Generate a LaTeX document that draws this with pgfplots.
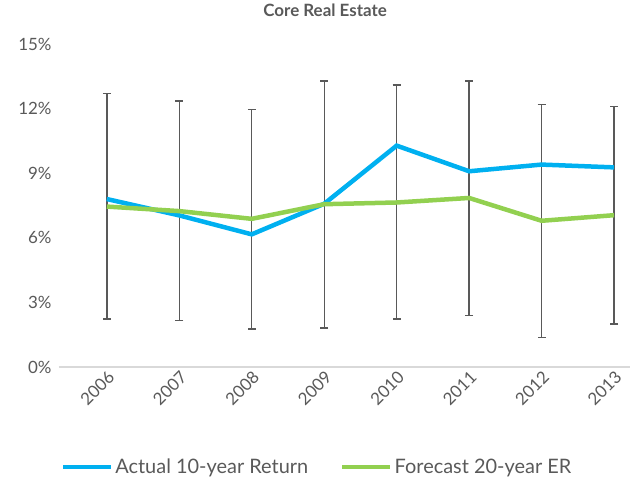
\documentclass[border=0pt]{standalone}
\usepackage{fontspec}
\setmainfont{Lato}
\usepackage{pgfplots}
\pgfplotsset{compat=1.18}
\definecolor{txt}{HTML}{595959}
\definecolor{blueL}{HTML}{00B0F0}
\definecolor{greenL}{HTML}{92D050}
\definecolor{errc}{HTML}{595959}
\definecolor{axc}{HTML}{D9D9D9}
\begin{document}
\begin{tikzpicture}
\useasboundingbox (-59bp,-114bp) rectangle (571bp,367bp);
\begin{axis}[
  at={(0,0)}, anchor=south west,
  scale only axis, width=571bp, height=323bp,
  xmin=-0.66, xmax=7.22, ymin=0, ymax=15,
  axis x line=bottom, axis y line=left,
  axis line style={-},
  x axis line style={draw=axc, line width=1.3bp},
  y axis line style={draw=none},
  major tick length=0,
  xtick={0,...,7}, xticklabels={2006,2007,2008,2009,2010,2011,2012,2013},
  xticklabel style={rotate=45, anchor=north east, font=\fontsize{17}{20}\selectfont, text=txt, inner sep=2bp},
  ytick={0,3,6,9,12,15}, yticklabels={0\%,3\%,6\%,9\%,12\%,15\%},
  yticklabel style={anchor=east, font=\fontsize{17}{20}\selectfont, text=txt, xshift=-4bp},
  title={Core Real Estate},
  title style={font=\bfseries\fontsize{17}{20}\selectfont, text=txt, at={(0.466,1.087)}, anchor=center},
  legend columns=2,
  legend style={at={(0.452,-0.31)}, anchor=center, draw=none, fill=none,
    font=\fontsize{20}{23}\selectfont, text=txt,
    /tikz/every even column/.append style={column sep=30bp}},
  legend image code/.code={\draw[#1, line width=4.5bp] (0bp,0bp) -- (48bp,0bp);},
]
\addplot[draw=none, mark=none, forget plot,
  error bars/.cd, y dir=both, y explicit,
  error bar style={draw=errc, line width=1.4bp},
  error mark options={draw=errc, line width=1.4bp, mark size=4bp, rotate=90}]
  coordinates {
  (0,7.46) +- (0,5.24)
  (1,7.25) +- (0,5.10)
  (2,6.87) +- (0,5.10)
  (3,7.55) +- (0,5.73)
  (4,7.66) +- (0,5.44)
  (5,7.84) +- (0,5.45)
  (6,6.78) +- (0,5.42)
  (7,7.05) +- (0,5.05)
  };
\addplot[blueL, line width=4.5bp, mark=none] coordinates {
  (0,7.80) (1,7.04) (2,6.16) (3,7.58) (4,10.28) (5,9.09) (6,9.40) (7,9.27)};
\addlegendentry{Actual 10-year Return}
\addplot[greenL, line width=4.5bp, mark=none] coordinates {
  (0,7.45) (1,7.24) (2,6.88) (3,7.56) (4,7.64) (5,7.85) (6,6.79) (7,7.05)};
\addlegendentry{Forecast 20-year ER}
\end{axis}
\end{tikzpicture}
\end{document}
